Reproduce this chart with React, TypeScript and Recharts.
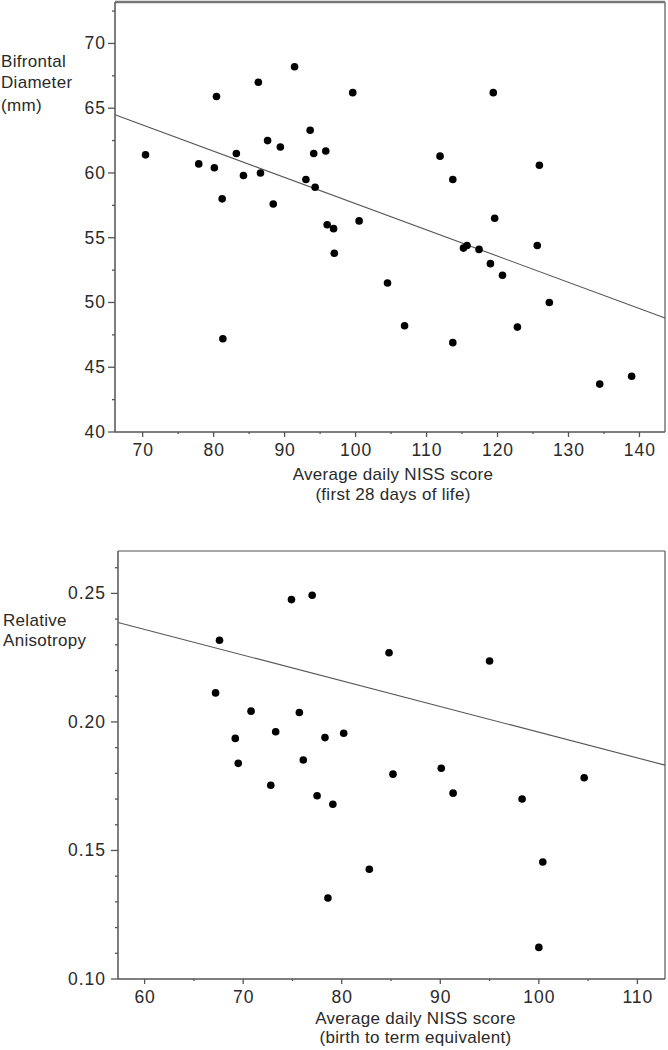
import React from "react";
import { ScatterChart, Scatter, XAxis, YAxis, ReferenceLine } from "recharts";

// top panel: bifrontal diameter vs NISS (first 28 days)
const niss28 = [
  70.4, 77.9, 80.1, 80.4, 81.2, 83.2, 84.2, 86.3, 86.6, 87.6, 88.4, 89.4, 91.4, 93.0,
  93.6, 94.1, 94.3, 95.8, 96.0, 96.9, 97.0, 99.6, 100.5, 104.5, 106.9, 111.9, 113.7,
  113.7, 115.2, 115.7, 117.4, 119.0, 119.4, 119.6, 120.7, 122.8, 125.6, 125.9, 127.3,
  134.4, 138.9, 81.3,
];
const bifrontal = [
  61.4, 60.7, 60.4, 65.9, 58.0, 61.5, 59.8, 67.0, 60.0, 62.5, 57.6, 62.0, 68.2, 59.5,
  63.3, 61.5, 58.9, 61.7, 56.0, 55.7, 53.8, 66.2, 56.3, 51.5, 48.2, 61.3, 59.5,
  46.9, 54.2, 54.4, 54.1, 53.0, 66.2, 56.5, 52.1, 48.1, 54.4, 60.6, 50.0,
  43.7, 44.3, 47.2,
];
const fitX1 = [66.1, 143.6];
const fitY1 = [64.5, 48.8];
const xTicks1 = [70, 75, 80, 85, 90, 95, 100, 105, 110, 115, 120, 125, 130, 135, 140];
const xMajor1 = [70, 80, 90, 100, 110, 120, 130, 140];
const yTicks1 = [40, 42.5, 45, 47.5, 50, 52.5, 55, 57.5, 60, 62.5, 65, 67.5, 70, 72.5];
const yMajor1 = [40, 45, 50, 55, 60, 65, 70];

// bottom panel: relative anisotropy vs NISS (birth to term equivalent)
const nissTerm = [
  74.9, 77.0, 67.6, 67.2, 70.8, 75.7, 73.3, 69.2, 78.3, 69.5, 76.1, 84.8, 95.0, 80.2,
  85.2, 90.1, 104.6, 72.8, 77.5, 79.1, 78.6, 91.3, 98.3, 82.8, 100.4, 100.0,
];
const anisotropy = [
  0.2476, 0.2493, 0.2318, 0.2113, 0.2042, 0.2037, 0.1962, 0.1936, 0.1939, 0.1839, 0.1852,
  0.2269, 0.2237, 0.1956, 0.1797, 0.182, 0.1783, 0.1754, 0.1713, 0.168, 0.1315, 0.1723,
  0.17, 0.1427, 0.1455, 0.1123,
];
const fitX2 = [57.3, 112.8];
const fitY2 = [0.2387, 0.1832];
const xTicks2 = [60, 65, 70, 75, 80, 85, 90, 95, 100, 105, 110];
const xMajor2 = [60, 70, 80, 90, 100, 110];
const yTicks2 = [0.1, 0.11, 0.12, 0.13, 0.14, 0.15, 0.16, 0.17, 0.18, 0.19, 0.2, 0.21, 0.22, 0.23, 0.24, 0.25, 0.26];
const yMajor2 = [0.1, 0.15, 0.2, 0.25];

const FONT = "'Liberation Sans', Arial, sans-serif";
const AXIS = "#555";
const TEXT = "#2a2a2a";

function XTick(props: any) {
  const { x, y, payload, major, fmt } = props;
  const isMajor = major.includes(payload.value);
  return (
    <g>
      <line x1={x} y1={y} x2={x} y2={y + (isMajor ? 5 : 2)} stroke={AXIS} strokeWidth={1.3} />
      {isMajor && (
        <text x={x + 0.5} y={y + 23.5} textAnchor="middle" fontSize={17.5} letterSpacing={1} fontFamily={FONT} fill={TEXT}>
          {fmt ? fmt(payload.value) : payload.value}
        </text>
      )}
    </g>
  );
}

function YTick(props: any) {
  const { x, y, payload, major, fmt, gap } = props;
  const isMajor = major.includes(payload.value);
  return (
    <g>
      <line x1={x} y1={y} x2={x - (isMajor ? 7 : 3)} y2={y} stroke={AXIS} strokeWidth={1.3} />
      {isMajor && (
        <text x={x - gap + 1} y={y + 6} textAnchor="end" fontSize={17.5} letterSpacing={1} fontFamily={FONT} fill={TEXT}>
          {fmt ? fmt(payload.value) : payload.value}
        </text>
      )}
    </g>
  );
}

const dot = (p: any) => <circle cx={p.cx} cy={p.cy} r={3.8} fill="#000" />;

function lines(texts: string[], x: number, baselines: number[], anchor: string) {
  return (
    <text fontSize={17} letterSpacing={0.3} fontFamily={FONT} fill={TEXT} textAnchor={anchor as any}>
      {texts.map((t, i) => (
        <tspan key={i} x={x} y={baselines[i]}>
          {t}
        </tspan>
      ))}
    </text>
  );
}

export default function App() {
  const data1 = niss28.map((x, i) => ({ x, y: bifrontal[i] }));
  const data2 = nissTerm.map((x, i) => ({ x, y: anisotropy[i] }));
  const dom1x: [number, number] = [66.1, 143.6];
  const dom1y: [number, number] = [40, 73.2];
  const dom2x: [number, number] = [57.3, 112.8];
  const dom2y: [number, number] = [0.1, 0.2665];

  return (
    <div style={{ position: "absolute", left: 0, top: 0, width: 668, height: 1050, background: "#fff" }}>
      <ScatterChart width={668} height={525} margin={{ top: 2, right: 3, bottom: 0, left: 0 }}>
        <XAxis
          type="number"
          dataKey="x"
          domain={dom1x}
          allowDataOverflow
          ticks={xTicks1}
          interval={0}
          tickSize={0}
          tickMargin={0}
          tickLine={false}
          height={93}
          axisLine={{ stroke: AXIS, strokeWidth: 1.5 }}
          tick={<XTick major={xMajor1} />}
          label={{
            content: (p: any) =>
              lines(
                ["Average daily NISS score", "(first 28 days of life)"],
                p.viewBox.x + p.viewBox.width / 2 + 3,
                [p.viewBox.y + 47.6, p.viewBox.y + 68],
                "middle"
              ),
          }}
        />
        <YAxis
          type="number"
          dataKey="y"
          domain={dom1y}
          allowDataOverflow
          ticks={yTicks1}
          interval={0}
          tickSize={0}
          tickMargin={0}
          tickLine={false}
          width={115}
          axisLine={{ stroke: AXIS, strokeWidth: 1.5 }}
          tick={<YTick major={yMajor1} gap={10} />}
          label={{
            content: (p: any) =>
              lines(
                ["Bifrontal", "Diameter", "(mm)"],
                1,
                [p.viewBox.y + 64.7, p.viewBox.y + 86.3, p.viewBox.y + 109],
                "start"
              ),
          }}
        />
        <ReferenceLine y={dom1y[1]} stroke="#777" strokeWidth={2.5} ifOverflow="visible" />
        <ReferenceLine x={dom1x[1]} stroke="#777" strokeWidth={1.5} ifOverflow="visible" />
        <ReferenceLine
          segment={[
            { x: fitX1[0], y: fitY1[0] },
            { x: fitX1[1], y: fitY1[1] },
          ]}
          stroke="#555"
          strokeWidth={1.1}
          ifOverflow="visible"
        />
        <Scatter data={data1} shape={dot} isAnimationActive={false} />
      </ScatterChart>

      <ScatterChart width={668} height={525} margin={{ top: 26, right: 3, bottom: 0, left: 0 }}>
        <XAxis
          type="number"
          dataKey="x"
          domain={dom2x}
          allowDataOverflow
          ticks={xTicks2}
          interval={0}
          tickSize={0}
          tickMargin={0}
          tickLine={false}
          height={71}
          axisLine={{ stroke: AXIS, strokeWidth: 1.5 }}
          tick={<XTick major={xMajor2} />}
          label={{
            content: (p: any) =>
              lines(
                ["Average daily NISS score", "(birth to term equivalent)"],
                p.viewBox.x + p.viewBox.width / 2 + 24,
                [p.viewBox.y + 45, p.viewBox.y + 64],
                "middle"
              ),
          }}
        />
        <YAxis
          type="number"
          dataKey="y"
          domain={dom2y}
          allowDataOverflow
          ticks={yTicks2}
          interval={0}
          tickSize={0}
          tickMargin={0}
          tickLine={false}
          width={118}
          axisLine={{ stroke: AXIS, strokeWidth: 1.5 }}
          tick={<YTick major={yMajor2} gap={13} fmt={(v: number) => v.toFixed(2)} />}
          label={{
            content: (p: any) =>
              lines(["Relative", "Anisotropy"], 3, [p.viewBox.y + 75, p.viewBox.y + 95], "start"),
          }}
        />
        <ReferenceLine y={dom2y[1]} stroke="#888" strokeWidth={1.5} ifOverflow="visible" />
        <ReferenceLine x={dom2x[1]} stroke="#777" strokeWidth={1.5} ifOverflow="visible" />
        <ReferenceLine
          segment={[
            { x: fitX2[0], y: fitY2[0] },
            { x: fitX2[1], y: fitY2[1] },
          ]}
          stroke="#555"
          strokeWidth={1.1}
          ifOverflow="visible"
        />
        <Scatter data={data2} shape={dot} isAnimationActive={false} />
      </ScatterChart>
    </div>
  );
}
